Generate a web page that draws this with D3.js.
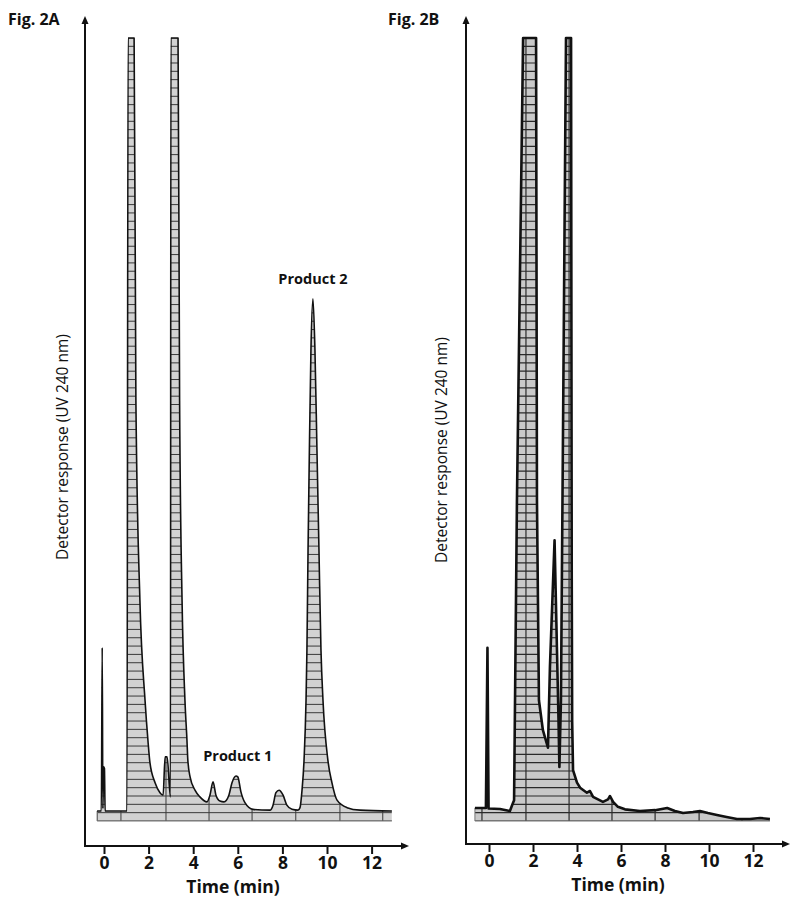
<!DOCTYPE html>
<html>
<head>
<meta charset="utf-8">
<script src="https://cdn.jsdelivr.net/npm/d3@7"></script>
<style>
  body { margin: 0; background: #fff; }
  text { font-family: "Open Sans", "Noto Sans", sans-serif; fill: #111; }
</style>
</head>
<body>
<svg id="chart" width="800" height="903"></svg>
<script>
// time ticks on both panels
let timeTicks = [0, 2, 4, 6, 8, 10, 12];

// chart paper vertical lines (min)
let gridTimesA = [-0.3, 0.76, 2.78, 4.71, 6.64, 8.6, 10.58, 12.5];
let gridTimesB = [-0.32, 1.68, 3.64, 5.59, 7.55, 9.55, 11.5];

// recorder trace, [time (min), response (chart divisions)], off-scale peaks cut at 94
let traceA = [
  [-0.31, 1.2], [-0.12, 1.2], [-0.08, 20.8], [-0.05, 1.5], [-0.02, 6.5], [0.02, 6.3], [0.05, 1.2],
  [1.03, 1.2], [1.08, 94], [1.35, 94], [1.43, 50.5], [1.61, 26.5], [1.84, 14.5], [1.97, 9.7],
  [2.06, 7.0], [2.29, 4.6], [2.51, 3.4], [2.65, 3.1], [2.74, 7.7], [2.83, 7.7], [2.98, 2.9],
  [3.0, 94], [3.32, 94], [3.39, 50.5], [3.5, 26.5], [3.63, 14.5], [3.72, 9.7], [3.76, 7.3],
  [3.86, 5.3], [4.08, 3.7], [4.3, 2.9], [4.62, 2.3], [4.75, 3.1], [4.89, 4.7], [5.02, 3.1],
  [5.2, 2.4], [5.38, 2.3], [5.6, 3.1], [5.74, 4.6], [5.92, 5.4], [6.0, 5.3], [6.14, 3.5],
  [6.32, 2.2], [6.68, 1.4], [7.44, 1.3], [7.58, 1.9], [7.71, 3.4], [7.85, 3.7], [8.03, 3.1],
  [8.2, 1.9], [8.43, 1.4], [8.7, 1.3], [8.79, 1.6], [8.88, 3.7], [8.97, 7.3], [9.06, 14.5],
  [9.1, 20.5], [9.15, 32.5], [9.21, 44.5], [9.28, 56.5], [9.37, 62.7], [9.46, 56.5],
  [9.55, 44.5], [9.64, 32.5], [9.73, 20.5], [9.82, 14.5], [10.04, 7.3], [10.22, 4.6],
  [10.45, 2.5], [10.9, 1.6], [11.48, 1.3], [12.91, 1.2]
];

let traceB = [
  [-0.64, 1.56], [-0.14, 1.56], [-0.07, 20.8], [-0.02, 1.5], [0.5, 1.44], [0.95, 1.2],
  [1.05, 1.9], [1.14, 2.5], [1.27, 38.5], [1.55, 94], [2.14, 94], [2.18, 38.5], [2.27, 14.5],
  [2.45, 10.9], [2.68, 8.8], [2.77, 18.5], [2.98, 33.7], [3.09, 20.5], [3.16, 12.1], [3.2, 6.5],
  [3.27, 14.5], [3.34, 38.5], [3.5, 94], [3.73, 94], [3.76, 30], [3.78, 12], [3.82, 6.1],
  [4.0, 4.6], [4.14, 4.0], [4.45, 3.4], [4.59, 3.6], [4.73, 2.9], [5.18, 2.3], [5.41, 2.6],
  [5.5, 3.0], [5.64, 2.3], [5.86, 1.7], [6.18, 1.4], [6.86, 1.2], [7.55, 1.3], [8.1, 1.56],
  [8.45, 1.2], [8.82, 0.96], [9.27, 1.08], [9.59, 1.2], [9.95, 0.96], [10.36, 0.72],
  [10.8, 0.48], [11.27, 0.24], [11.86, 0.24], [12.32, 0.36], [12.77, 0.24]
];

let peakLabels = [
  {text: "Product 1", t: 6.0, v: 7.2},
  {text: "Product 2", t: 9.37, v: 64.5}
];

let svg = d3.select("#chart");

let y = d3.scaleLinear().domain([0, 94]).range([821, 38]);
let gridLevels = d3.range(0, 95, 1);

function drawPanel(opt) {
  let x = d3.scaleLinear().domain([0, 12]).range(opt.xRange);
  let g = svg.append("g");
  let x0 = d3.min(opt.trace, d => d[0]), x1 = d3.max(opt.trace, d => d[0]);

  let area = d3.area()
    .x(d => x(d[0]))
    .y0(y(0))
    .y1(d => y(d[1]))
    .curve(opt.curve);

  let line = d3.line()
    .x(d => x(d[0]))
    .y(d => y(d[1]))
    .curve(opt.curve);

  // chart paper under the trace
  g.append("clipPath").attr("id", opt.id + "clip")
    .append("path").attr("d", area(opt.trace));

  let paper = g.append("g").attr("clip-path", "url(#" + opt.id + "clip)");
  paper.append("rect")
    .attr("x", x(x0)).attr("y", y(94))
    .attr("width", x(x1) - x(x0)).attr("height", y(0) - y(94))
    .attr("fill", opt.fill);
  paper.selectAll(".hline").data(gridLevels).enter().append("line")
    .attr("x1", x(x0)).attr("x2", x(x1))
    .attr("y1", d => y(d)).attr("y2", d => y(d))
    .attr("stroke", opt.gridColor).attr("stroke-width", opt.gridWidth);
  paper.selectAll(".vline").data(opt.gridTimes).enter().append("line")
    .attr("x1", d => x(d)).attr("x2", d => x(d))
    .attr("y1", y(0)).attr("y2", y(94))
    .attr("stroke", opt.gridColor).attr("stroke-width", opt.gridWidth);

  // paper edge
  g.append("line")
    .attr("x1", x(x0)).attr("x2", x(x1))
    .attr("y1", y(0)).attr("y2", y(0))
    .attr("stroke", "#777").attr("stroke-width", 1);
  g.append("line")
    .attr("x1", x(x0)).attr("x2", x(x0))
    .attr("y1", y(0)).attr("y2", y(opt.trace[0][1]))
    .attr("stroke", "#777").attr("stroke-width", 1);

  g.append("path")
    .attr("d", line(opt.trace))
    .attr("fill", "none")
    .attr("stroke", "#111")
    .attr("stroke-width", opt.traceWidth)
    .attr("stroke-linejoin", "round");

  // axes
  let axisY = opt.axisY, axisX = opt.axisX;
  g.append("line")
    .attr("x1", axisX).attr("x2", axisX)
    .attr("y1", axisY).attr("y2", 22)
    .attr("stroke", "#111").attr("stroke-width", 2);
  g.append("path")
    .attr("d", `M${axisX - 3.5},24 L${axisX},16 L${axisX + 3.5},24 Z`)
    .attr("fill", "#111");
  g.append("line")
    .attr("x1", axisX - 1).attr("x2", opt.arrowX - 4)
    .attr("y1", axisY).attr("y2", axisY)
    .attr("stroke", "#111").attr("stroke-width", 2);
  g.append("path")
    .attr("d", `M${opt.arrowX - 6},${axisY - 3.5} L${opt.arrowX + 2},${axisY} L${opt.arrowX - 6},${axisY + 3.5} Z`)
    .attr("fill", "#111");

  let xAxis = g.append("g")
    .attr("transform", "translate(0," + axisY + ")")
    .call(d3.axisBottom(x).tickValues(timeTicks).tickSize(8).tickPadding(3).tickSizeOuter(0));
  xAxis.select(".domain").remove();
  xAxis.selectAll(".tick line").attr("stroke", "#111").attr("stroke-width", 2);
  xAxis.selectAll(".tick text")
    .style("font-family", "'Open Sans', sans-serif")
    .style("font-weight", "700").style("font-size", "17.5px").attr("fill", "#111");

  g.append("text")
    .attr("x", opt.titleX).attr("y", axisY + 47)
    .attr("text-anchor", "middle")
    .style("font-weight", "700").style("font-size", "17.5px")
    .text("Time (min)");

  g.append("text")
    .attr("transform", `translate(${opt.yTitleX},${opt.yTitleY}) rotate(-90)`)
    .attr("text-anchor", "middle")
    .style("font-size", "15.5px")
    .text("Detector response (UV 240 nm)");

  g.append("text")
    .attr("x", opt.figX).attr("y", 25)
    .style("font-weight", "700").style("font-size", "16px")
    .text(opt.fig);

  if (opt.labels) {
    g.selectAll(".plabel").data(opt.labels).enter().append("text")
      .attr("x", d => x(d.t)).attr("y", d => y(d.v))
      .attr("text-anchor", "middle")
      .style("font-weight", "700").style("font-size", "14.5px")
      .text(d => d.text);
  }
}

drawPanel({
  id: "A", fig: "Fig. 2A", figX: 8,
  trace: traceA, gridTimes: gridTimesA, labels: peakLabels, curve: d3.curveMonotoneX,
  xRange: [104, 371.6], axisX: 85, axisY: 846, arrowX: 407,
  titleX: 233, yTitleX: 68, yTitleY: 447,
  fill: "#d2d2d2", gridColor: "#3a3a3a", gridWidth: 1, traceWidth: 1.6
});

drawPanel({
  id: "B", fig: "Fig. 2B", figX: 388,
  trace: traceB, gridTimes: gridTimesB, labels: null, curve: d3.curveLinear,
  xRange: [489, 753], axisX: 466, axisY: 844, arrowX: 788,
  titleX: 618, yTitleX: 447, yTitleY: 450,
  fill: "#c9c9c9", gridColor: "#2a2a2a", gridWidth: 1.2, traceWidth: 2.6
});
</script>
</body>
</html>
